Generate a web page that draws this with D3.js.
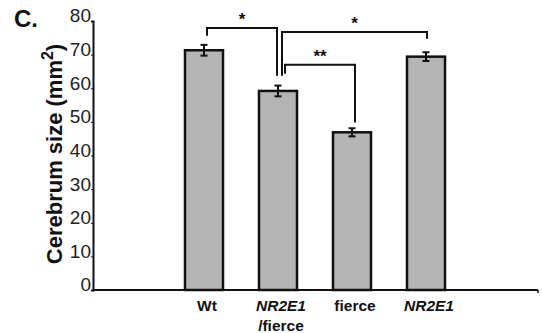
<!DOCTYPE html>
<html>
<head>
<meta charset="utf-8">
<script src="https://cdn.jsdelivr.net/npm/d3@7"></script>
<style>
  body { margin: 0; background: #fff; }
  svg { display: block; font-family: "Liberation Sans", Arial, sans-serif; }
</style>
</head>
<body>
<div id="chart"></div>
<script>
// chart data
const categories = ['Wt', 'NR2E1/fierce', 'fierce', 'NR2E1'];
const values = [71.3, 59.2, 46.9, 69.4];
const errors = [1.6, 1.6, 1.2, 1.3];
const yTicks = [0, 10, 20, 30, 40, 50, 60, 70, 80];

// significance brackets: [from, to, top, fromEnd, toEnd, label]
const brackets = [
  ['Wt', 'NR2E1/fierce', 77.9, 75.6, 63.7, '*'],
  ['NR2E1/fierce', 'NR2E1', 76.7, 63.7, 74.7, '*'],
  ['NR2E1/fierce', 'fierce', 67.0, 64.3, 49.8, '**']
];
// small horizontal shifts so legs do not overlap (px)
const bracketShift = [[3, -1], [4, 1], [7, 3]];

const width = 542, height = 333;
const axisX = 93, axisBottom = 290, axisTop = 21, axisRight = 538;

const svg = d3.select('#chart')
  .append('svg')
  .attr('width', width)
  .attr('height', height);

const x = d3.scaleBand()
  .domain(categories)
  .range([axisX + 74, axisX + 74 * 5])
  .paddingInner(0.486)
  .paddingOuter(0.243);

const y = d3.scaleLinear()
  .domain([0, 80])
  .range([axisBottom, axisTop]);

const cx = c => x(c) + x.bandwidth() / 2;

// bars
svg.selectAll('.bar')
  .data(values)
  .enter().append('rect')
  .attr('class', 'bar')
  .attr('x', (d, i) => x(categories[i]))
  .attr('y', d => y(d))
  .attr('width', x.bandwidth())
  .attr('height', d => axisBottom - y(d))
  .attr('fill', '#b4b4b4')
  .attr('stroke', '#111')
  .attr('stroke-width', 2.5);

// error bars
const eb = svg.selectAll('.err')
  .data(values)
  .enter().append('g')
  .attr('class', 'err')
  .attr('stroke', '#111')
  .attr('stroke-width', 2);

eb.append('line')
  .attr('x1', (d, i) => cx(categories[i]))
  .attr('x2', (d, i) => cx(categories[i]))
  .attr('y1', (d, i) => y(d + errors[i]))
  .attr('y2', (d, i) => y(d - errors[i]));

[1, -1].forEach(s => {
  eb.append('line')
    .attr('x1', (d, i) => cx(categories[i]) - 3.5)
    .attr('x2', (d, i) => cx(categories[i]) + 3.5)
    .attr('y1', (d, i) => y(d + s * errors[i]))
    .attr('y2', (d, i) => y(d + s * errors[i]));
});

// y axis
const yAxis = svg.append('g')
  .attr('transform', 'translate(' + axisX + ',0)')
  .call(d3.axisLeft(y).tickValues(yTicks).tickSize(2).tickPadding(0));
yAxis.select('.domain').attr('stroke', '#111').attr('stroke-width', 2);
yAxis.selectAll('.tick line').attr('stroke', '#111');
yAxis.selectAll('.tick text')
  .attr('font-size', 19)
  .attr('fill', '#222')
  .attr('dy', '0.05em');

// x axis
svg.append('line')
  .attr('x1', axisX).attr('x2', axisRight)
  .attr('y1', axisBottom).attr('y2', axisBottom)
  .attr('stroke', '#111').attr('stroke-width', 2);
svg.append('line')
  .attr('x1', axisRight).attr('x2', axisRight)
  .attr('y1', axisBottom).attr('y2', axisBottom + 3)
  .attr('stroke', '#111').attr('stroke-width', 1.5);

// x labels
const xl = svg.selectAll('.xlab')
  .data(categories)
  .enter().append('text')
  .attr('class', 'xlab')
  .attr('x', d => cx(d) + 3)
  .attr('y', 311)
  .attr('text-anchor', 'middle')
  .attr('font-size', 15.5)
  .attr('font-weight', 'bold')
  .attr('fill', '#111');
xl.each(function (d) {
  const t = d3.select(this);
  if (d === 'NR2E1/fierce') {
    t.append('tspan').attr('font-style', 'italic').text('NR2E1');
    t.append('tspan').attr('x', cx(d) + 3).attr('dy', 20).text('/fierce');
  } else if (d === 'NR2E1') {
    t.attr('font-style', 'italic').text(d);
  } else {
    t.text(d);
  }
});

// significance brackets
brackets.forEach((b, i) => {
  const x1 = cx(b[0]) + bracketShift[i][0];
  const x2 = cx(b[1]) + bracketShift[i][1];
  svg.append('path')
    .attr('d', 'M' + x1 + ',' + y(b[3]) + 'V' + y(b[2]) + 'H' + x2 + 'V' + y(b[4]))
    .attr('fill', 'none')
    .attr('stroke', '#111')
    .attr('stroke-width', 2);
  svg.append('text')
    .attr('x', (x1 + x2) / 2)
    .attr('y', y(b[2]) - 3)
    .attr('text-anchor', 'middle')
    .attr('font-size', 17)
    .attr('font-weight', 'bold')
    .attr('fill', '#111')
    .text(b[5]);
});

// y axis title
const yt = svg.append('text')
  .attr('transform', 'translate(62,154) rotate(-90)')
  .attr('text-anchor', 'middle')
  .attr('font-size', 22)
  .attr('font-weight', 'bold')
  .attr('fill', '#111');
yt.append('tspan').text('Cerebrum size (mm');
yt.append('tspan').attr('dy', -9).attr('font-size', 16).text('2');
yt.append('tspan').attr('dy', 9).text(')');

// panel letter
svg.append('text')
  .attr('x', 14).attr('y', 27)
  .attr('font-size', 24)
  .attr('font-weight', 'bold')
  .attr('fill', '#111')
  .text('C.');
</script>
</body>
</html>
